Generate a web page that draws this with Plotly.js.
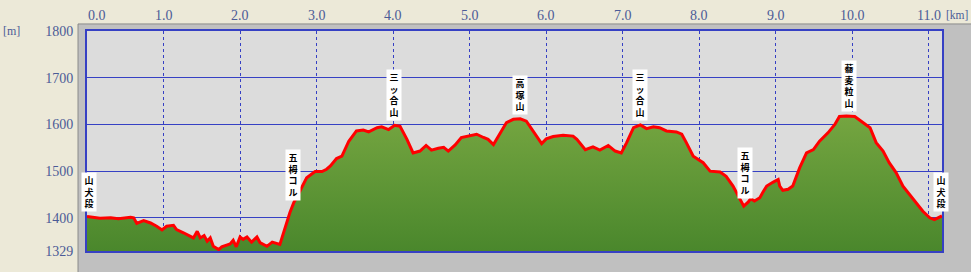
<!DOCTYPE html>
<html>
<head>
<meta charset="utf-8">
<script src="https://cdn.plot.ly/plotly-3.0.1.min.js"></script>
<style>html,body{margin:0;padding:0;background:#ece9d8;}</style>
</head>
<body>
<div id="chart" style="width:971px;height:272px;"></div>
<script>
// distance along route [km]
const distKm = [
  0.00,0.17,0.31,0.41,0.57,0.61,0.65,0.74,0.83,0.91,0.98,1.04,1.13,1.17,1.26,1.35,1.39,1.44,1.48,1.53,
  1.57,1.61,1.65,1.72,1.76,1.87,1.91,1.95,2.00,2.04,2.09,2.15,2.22,2.26,2.35,2.42,2.52,2.65,2.70,2.78,
  2.87,2.98,3.07,3.13,3.18,3.26,3.33,3.42,3.52,3.61,3.68,3.79,3.85,3.94,4.02,4.09,4.18,4.26,4.35,4.43,
  4.50,4.59,4.66,4.72,4.81,4.89,5.00,5.09,5.18,5.24,5.31,5.40,5.48,5.57,5.66,5.74,5.83,5.94,6.00,6.09,
  6.22,6.35,6.40,6.51,6.61,6.70,6.81,6.90,6.98,7.05,7.14,7.23,7.31,7.40,7.48,7.57,7.70,7.77,7.83,7.92,
  8.05,8.14,8.27,8.35,8.44,8.53,8.58,8.64,8.67,8.72,8.79,8.83,8.88,8.96,9.03,9.05,9.09,9.16,9.22,9.31,
  9.40,9.49,9.57,9.68,9.77,9.83,9.92,10.03,10.14,10.23,10.31,10.40,10.48,10.57,10.66,10.75,10.83,10.92,11.01,11.07,
  11.17
];
// elevation [m]
const elevM = [
  1403,1399,1400,1398,1401,1400,1388,1394,1389,1382,1374,1382,1384,1375,1368,1361,1357,1371,1357,1362,
  1350,1357,1339,1332,1338,1344,1352,1338,1359,1354,1359,1348,1359,1347,1339,1348,1343,1411,1432,1457,
  1486,1499,1499,1504,1511,1527,1532,1564,1586,1588,1584,1593,1595,1589,1598,1596,1568,1539,1543,1555,
  1545,1549,1551,1543,1556,1572,1575,1579,1572,1568,1557,1582,1604,1611,1612,1607,1586,1559,1569,1574,
  1577,1575,1568,1546,1552,1545,1555,1543,1539,1561,1593,1599,1591,1595,1593,1586,1584,1579,1561,1532,
  1518,1500,1498,1489,1468,1439,1425,1434,1441,1436,1443,1455,1468,1476,1482,1468,1459,1461,1468,1507,
  1539,1546,1564,1582,1600,1617,1618,1617,1604,1593,1561,1543,1518,1497,1468,1450,1432,1414,1400,1396,
  1404
];
// named points
const placeNames = ['山犬段','五栂コル','三ッ合山','高塚山','三ッ合山','五栂コル','蕎麦粒山','山犬段'];
const placeKm    = [0.02, 2.69, 4.01, 5.66, 7.22, 8.59, 9.96, 11.16];
const placeElev  = [1403, 1428, 1598, 1612, 1599, 1432, 1618, 1403];
// axis ticks
const xTickVals = [0,1,2,3,4,5,6,7,8,9,10,11];
const xTickText = ['0.0','1.0','2.0','3.0','4.0','5.0','6.0','7.0','8.0','9.0','10.0','11.0'];
const yTickVals = [1329,1400,1500,1600,1700,1800];
const yTickText = ['1329','1400','1500','1600','1700','1800'];

const tickColor = '#4b5b97';
const serif = 'Liberation Serif, DejaVu Serif, serif';
const tickFont = {family:serif, size:14, color:tickColor};
const unitFont = {family:serif, size:12, color:tickColor};
const blue = '#3640c4';

const trace = {
  x: distKm, y: elevM, type:'scatter', mode:'lines',
  line:{color:'#ff0000', width:3},
  fill:'tozeroy',
  fillcolor:'#5f9636',
  fillgradient:{type:'vertical', start:1329, stop:1625,
    colorscale:[[0,'#4a872c'],[1,'#76a641']]},
  hoverinfo:'skip'
};

const shapes = [
  {type:'rect', xref:'paper', yref:'paper', x0:-0.0105, x1:1.06, y0:-0.2, y1:1.032,
   fillcolor:'#c0c0c0', line:{width:0}, layer:'below'},
  {type:'path', xref:'paper', yref:'paper', path:'M -0.0105 -0.2 L -0.0105 1.032 L 1.06 1.032',
   line:{color:'#8a8a8a', width:1}, layer:'below'},
  {type:'rect', xref:'paper', yref:'paper', x0:0, x1:1, y0:0, y1:1,
   fillcolor:'#dcdcdc', line:{width:0}, layer:'below'}
];

const annotations = [];
// x tick labels along the top
xTickVals.forEach((v,i) => {
  annotations.push({x:v, xref:'x', y:1, yref:'paper', yanchor:'middle', yshift:16,
    xanchor: i===0 ? 'left' : 'center', xshift: i===0 ? -1 : 0,
    text:xTickText[i], showarrow:false, font:tickFont});
});
annotations.push({x:1.0, xref:'paper', xanchor:'left', xshift:2, y:1, yref:'paper', yanchor:'middle', yshift:16,
  text:'[km]', showarrow:false, font:{family:serif, size:11.5, color:tickColor}});
annotations.push({x:0, xref:'paper', xanchor:'left', xshift:-86, y:1, yref:'paper', yanchor:'middle', yshift:0,
  text:'[m]', showarrow:false, font:unitFont});

// vertical place labels (one character per line)
placeNames.forEach((name, k) => {
  annotations.push({x:placeKm[k], xref:'x', y:placeElev[k], yref:'y',
    xanchor:'center', yanchor:'bottom', yshift:4,
    text:'<b>' + Array.from(name).join('<br>') + '</b>', showarrow:false,
    bgcolor:'#ffffff', borderpad:1, width:12,
    font:{family:'Noto Sans CJK JP, sans-serif', size:9, color:'#000000'}});
});

const layout = {
  width:971, height:272,
  margin:{l:87, r:29, t:31, b:21, pad:0},
  paper_bgcolor:'#ece9d8',
  plot_bgcolor:'#dcdcdc',
  showlegend:false,
  xaxis:{range:[0,11.17], tickvals:xTickVals, showticklabels:false, ticks:'',
    showgrid:true, gridcolor:blue, gridwidth:1, griddash:'dot', zeroline:false,
    showline:true, mirror:true, linecolor:blue, linewidth:2, fixedrange:true},
  yaxis:{range:[1329,1800], tickvals:yTickVals, ticktext:yTickText, ticks:'',
    ticklabelstandoff:9, tickfont:tickFont,
    showgrid:true, gridcolor:blue, gridwidth:1, zeroline:false,
    showline:true, mirror:true, linecolor:blue, linewidth:2, fixedrange:true},
  shapes: shapes,
  annotations: annotations
};

Plotly.newPlot('chart', [trace], layout, {displayModeBar:false, staticPlot:true});
</script>
</body>
</html>
